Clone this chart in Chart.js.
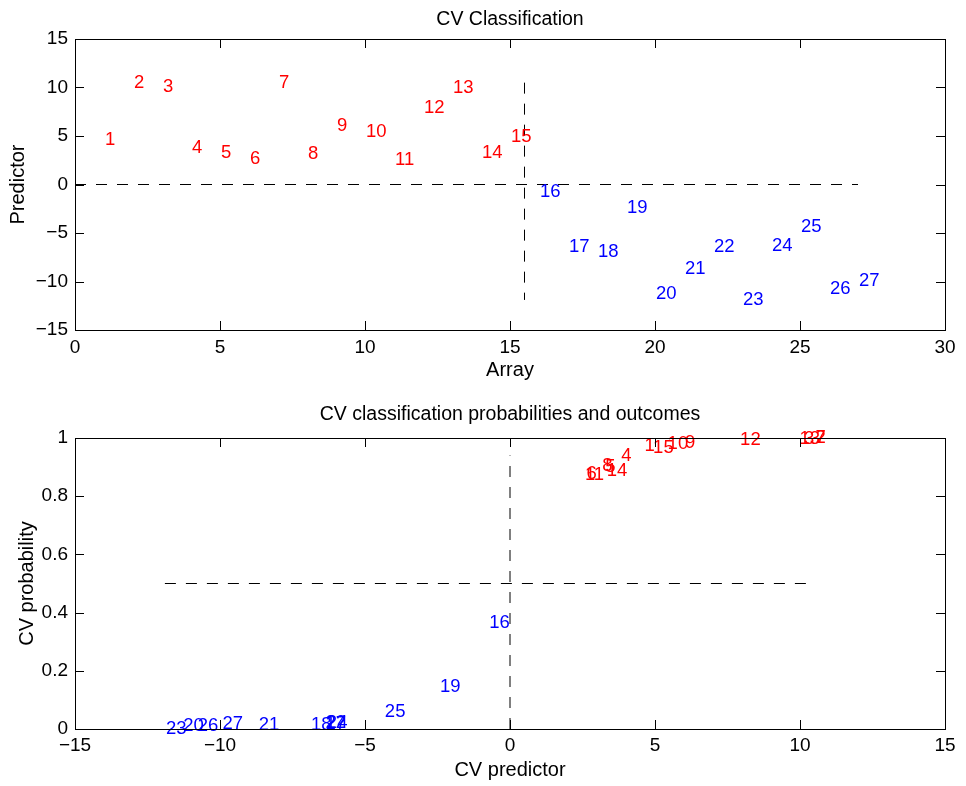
<!DOCTYPE html>
<html><head><meta charset="utf-8">
<script src="https://cdn.jsdelivr.net/npm/chart.js@4.4.0/dist/chart.umd.min.js"></script>
<style>
html,body{margin:0;padding:0;background:#fff;}
#wrap{position:relative;width:966px;height:786px;overflow:hidden;}
.c{position:absolute;left:0;width:966px;height:393px;}
</style></head><body>
<div id="wrap">
<div class="c" style="top:0"><canvas id="topChart" width="966" height="393"></canvas></div>
<div class="c" style="top:393px"><canvas id="botChart" width="966" height="393"></canvas></div>
</div>
<script>
// ---- data ----
const sampleIds = [1,2,3,4,5,6,7,8,9,10,11,12,13,14,15,16,17,18,19,20,21,22,23,24,25,26,27];
const predictor = [4.6,10.5,10.1,3.8,3.25,2.6,10.5,3.15,6.0,5.4,2.55,7.9,9.95,3.3,4.9,
                   -0.75,-6.4,-6.9,-2.45,-11.3,-8.7,-6.4,-11.9,-6.35,-4.35,-10.8,-9.95];
const probability = [0.972,1.0,0.998,0.94,0.902,0.875,1.0,0.905,0.983,0.978,0.872,0.993,0.997,0.887,0.966,
                     0.364,0.017,0.014,0.144,0.009,0.014,0.02,0.002,0.02,0.058,0.01,0.019];
const outcome = [1,1,1,1,1,1,1,1,1,1,1,1,1,1,1,0,0,0,0,0,0,0,0,0,0,0,0];
const arrayTicks = [0,5,10,15,20,25,30];
const predictorTicks = [-15,-10,-5,0,5,10,15];
const cvPredictorTicks = [-15,-10,-5,0,5,10,15];
const probabilityTicks = [0,0.2,0.4,0.6,0.8,1];
const probLineTop = 0.94;

const RED = '#ff0000', BLUE = '#0000ff';
const FONT = '"Liberation Sans", Arial, Helvetica, sans-serif';
const FS_TICK = 19, FS_TITLE = 19.5, FS_AXTITLE = 20, FS_LABEL = 18.5;

const fmt = v => String(v).replace('-', '\u2212');

function labelPoints(xs, ys, cls) {
  return sampleIds.map((id, i) => ({x: xs[i], y: ys[i], t: String(id), c: cls[i]}));
}

const labelPlugin = {
  id: 'labels',
  afterDatasetsDraw(chart) {
    const ctx = chart.ctx;
    ctx.save();
    ctx.font = FS_LABEL + 'px ' + FONT;
    ctx.textAlign = 'left';
    ctx.textBaseline = 'middle';
    chart.data.datasets.forEach((ds, di) => {
      if (!ds.textLabels) return;
      const meta = chart.getDatasetMeta(di);
      meta.data.forEach((el, i) => {
        const p = ds.data[i];
        ctx.fillStyle = p.c ? RED : BLUE;
        ctx.fillText(p.t, el.x + 1, el.y);
      });
    });
    ctx.restore();
  },
  afterDraw(chart) {
    const ctx = chart.ctx, a = chart.chartArea;
    const xs = chart.scales.x, ys = chart.scales.y;
    const TL = 9;
    ctx.save();
    ctx.strokeStyle = '#000';
    ctx.lineWidth = 1;
    ctx.beginPath();
    xs.ticks.forEach(t => {
      const px = Math.round(xs.getPixelForValue(t.value)) + 0.5;
      ctx.moveTo(px, a.bottom); ctx.lineTo(px, a.bottom - TL);
      ctx.moveTo(px, a.top); ctx.lineTo(px, a.top + TL);
    });
    ys.ticks.forEach(t => {
      const py = Math.round(ys.getPixelForValue(t.value)) + 0.5;
      ctx.moveTo(a.left, py); ctx.lineTo(a.left + TL, py);
      ctx.moveTo(a.right, py); ctx.lineTo(a.right - TL, py);
    });
    ctx.stroke();
    ctx.strokeRect(Math.round(a.left) + 0.5, Math.round(a.top) + 0.5,
                   Math.round(a.right - a.left), Math.round(a.bottom - a.top));
    ctx.restore();
  }
};

function dashed(points) {
  return {type: 'scatter', data: points, showLine: true, pointRadius: 0, borderColor: '#000',
          borderWidth: 1, borderDash: [11, 10], fill: false};
}

function axis(min, max, tickVals, titleText, isX, tickPad, titlePad, fitSize) {
  return {
    type: 'linear', min, max,
    afterBuildTicks: s => { s.ticks = tickVals.map(v => ({value: v})); },
    afterFit: s => { if (isX) s.height = fitSize; else s.width = fitSize; },
    ticks: {font: {family: FONT, size: FS_TICK}, color: '#000', padding: tickPad,
            callback: fmt, maxRotation: 0, autoSkip: false},
    grid: {display: false, drawTicks: false},
    border: {display: false},
    title: {display: true, text: titleText, color: '#000',
            font: {family: FONT, size: FS_AXTITLE}, padding: titlePad}
  };
}

function makeChart(id, cfg) {
  return new Chart(document.getElementById(id), {
    type: 'scatter',
    data: {datasets: cfg.datasets},
    options: {
      responsive: false, animation: false, devicePixelRatio: 1, events: [],
      layout: {padding: {left: 0, right: 21, top: 0, bottom: 0}},
      plugins: {
        legend: {display: false}, tooltip: {enabled: false},
        title: {display: true, text: cfg.title, color: '#000', fullSize: false,
                font: {family: FONT, size: FS_TITLE, weight: 'normal'}, padding: cfg.titlePad}
      },
      scales: cfg.scales
    },
    plugins: [labelPlugin]
  });
}

// ---- top chart: predictor by array ----
const nRed = outcome.filter(v => v === 1).length;
const boundary = (sampleIds[nRed - 1] + sampleIds[nRed]) / 2;
const pMin = Math.min(...predictor), pMax = Math.max(...predictor);
const topLabels = labelPoints(sampleIds, predictor, outcome);
makeChart('topChart', {
  title: 'CV Classification',
  titlePad: {top: 7.5, bottom: 8.1},
  datasets: [
    dashed([{x: 0, y: 0}, {x: sampleIds.length, y: 0}]),
    dashed([{x: boundary, y: pMax}, {x: boundary, y: pMin}]),
    {data: topLabels, textLabels: true, pointRadius: 0, showLine: false}
  ],
  scales: {
    x: axis(0, 30, arrayTicks, 'Array', true, 6.6, {top: 0, bottom: 11}, 63),
    y: axis(-15, 15, predictorTicks, 'Predictor', false, 7, {top: 6.5, bottom: 0}, 75)
  }
});

// ---- bottom chart: probability by CV predictor ----
const botLabels = labelPoints(predictor, probability, outcome);
makeChart('botChart', {
  title: 'CV classification probabilities and outcomes',
  titlePad: {top: 10, bottom: 11.6},
  datasets: [
    dashed([{x: pMin, y: 0.5}, {x: pMax, y: 0.5}]),
    dashed([{x: 0, y: 0}, {x: 0, y: probLineTop}]),
    {data: botLabels, textLabels: true, pointRadius: 0, showLine: false}
  ],
  scales: {
    x: axis(-15, 15, cvPredictorTicks, 'CV predictor', true, 5.6, {top: 0, bottom: 4}, 57),
    y: axis(0, 1, probabilityTicks, 'CV probability', false, 7, {top: 15, bottom: 0}, 75)
  }
});
</script>
</body></html>
